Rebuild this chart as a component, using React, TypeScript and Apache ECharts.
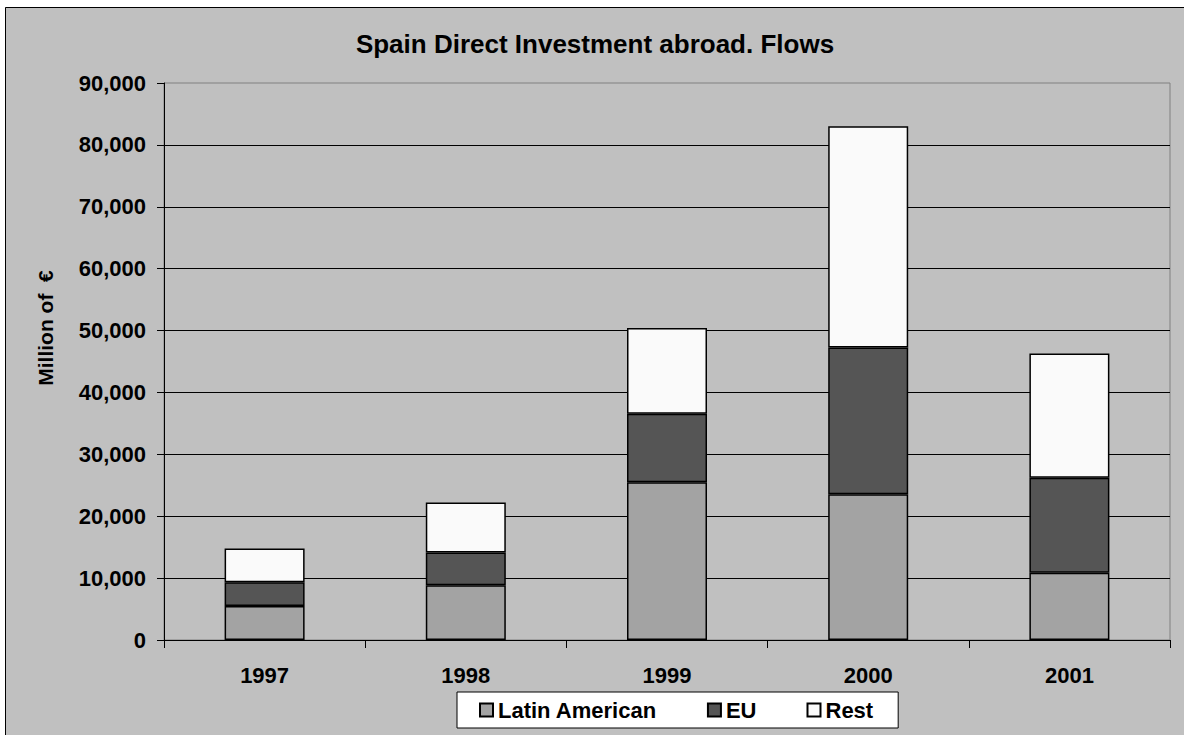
import React, { useEffect, useRef } from "react";
import * as echarts from "echarts";

const categories = ["1997", "1998", "1999", "2000", "2001"];
const latinAmerican = [5500, 8850, 25500, 23550, 10850];
const eu = [3850, 5300, 11050, 23700, 15350];
const rest = [5450, 8050, 13850, 35750, 20100];
const yTicks = { min: 0, max: 90000, interval: 10000 };

const FONT = "'Liberation Sans', Arial, sans-serif";

export default function App() {
  const ref = useRef<HTMLDivElement>(null);
  useEffect(() => {
    if (!ref.current) return;
    const chart = echarts.init(ref.current, undefined, { renderer: "svg" });
    const barBorder = { borderColor: "#000", borderWidth: 1.5 };
    chart.setOption({
      animation: false,
      backgroundColor: "#c0c0c0",
      graphic: [
        {
          type: "rect",
          z: -10,
          silent: true,
          shape: { x: 0, y: 0, width: 1184, height: 7 },
          style: { fill: "#ffffff" },
        },
        {
          type: "rect",
          z: -10,
          silent: true,
          shape: { x: 0, y: 0, width: 5, height: 735 },
          style: { fill: "#ffffff" },
        },
        {
          type: "line",
          z: -9,
          silent: true,
          shape: { x1: 5.5, y1: 7.5, x2: 1184, y2: 7.5 },
          style: { stroke: "#000", lineWidth: 1 },
        },
        {
          type: "line",
          z: -9,
          silent: true,
          shape: { x1: 5.5, y1: 7.5, x2: 5.5, y2: 735 },
          style: { stroke: "#000", lineWidth: 1 },
        },
        {
          type: "text",
          x: 595,
          y: 43.5,
          style: {
            text: "Spain Direct Investment abroad. Flows",
            fontFamily: FONT,
            fontWeight: "bold",
            fontSize: 26,
            fill: "#000",
            align: "center",
            verticalAlign: "middle",
          },
        },
        {
          type: "text",
          x: 45,
          y: 328,
          rotation: Math.PI / 2,
          style: {
            text: "Million of  €",
            fontFamily: FONT,
            fontWeight: "bold",
            fontSize: 21,
            fill: "#000",
            align: "center",
            verticalAlign: "middle",
          },
        },
      ],
      legend: {
        data: ["Latin American", "EU", "Rest"],
        left: 457,
        top: 692,
        orient: "horizontal",
        backgroundColor: "#ffffff",
        borderColor: "#000",
        borderWidth: 1,
        borderRadius: 0,
        padding: [7, 25, 7, 22],
        itemGap: 50,
        itemWidth: 13,
        itemHeight: 13,
        icon: "rect",
        textStyle: { fontFamily: FONT, fontWeight: "bold", fontSize: 22, color: "#000" },
      },
      grid: {
        left: 164,
        right: 14,
        top: 83,
        bottom: 95,
        show: true,
        backgroundColor: "#c0c0c0",
        borderColor: "#808080",
        borderWidth: 1,
      },
      xAxis: {
        type: "category",
        data: categories,
        axisLine: { lineStyle: { color: "#000", width: 1 } },
        axisTick: { show: true, length: 8, lineStyle: { color: "#000" } },
        axisLabel: {
          fontFamily: FONT,
          fontWeight: "bold",
          fontSize: 22,
          color: "#000",
          margin: 24,
        },
      },
      yAxis: {
        type: "value",
        min: yTicks.min,
        max: yTicks.max,
        interval: yTicks.interval,
        axisLine: { show: true, lineStyle: { color: "#000", width: 1 } },
        axisTick: { show: true, length: 7, lineStyle: { color: "#000" } },
        splitLine: { show: true, showMaxLine: false, lineStyle: { color: "#000", width: 1 } },
        axisLabel: {
          fontFamily: FONT,
          fontWeight: "bold",
          fontSize: 22,
          color: "#000",
          margin: 18,
          formatter: (v: number) => v.toLocaleString("en-US"),
        },
      },
      series: [
        {
          name: "Latin American",
          type: "bar",
          stack: "total",
          barWidth: 80,
          data: latinAmerican,
          itemStyle: { color: "#a3a3a3", ...barBorder },
        },
        {
          name: "EU",
          type: "bar",
          stack: "total",
          barWidth: 80,
          data: eu,
          itemStyle: { color: "#555555", ...barBorder },
        },
        {
          name: "Rest",
          type: "bar",
          stack: "total",
          barWidth: 80,
          data: rest,
          itemStyle: { color: "#fafafa", ...barBorder },
        },
      ],
    });
    return () => chart.dispose();
  }, []);
  return (
    <div
      ref={ref}
      style={{ position: "absolute", left: 0, top: 0, width: 1184, height: 735 }}
    />
  );
}
